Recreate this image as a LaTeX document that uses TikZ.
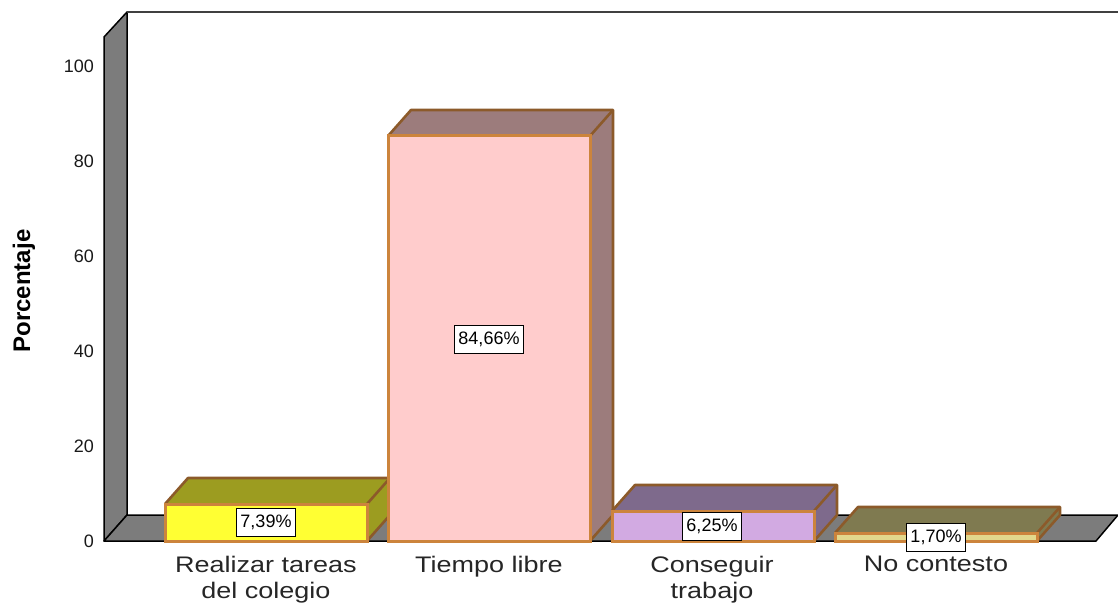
\documentclass[tikz,border=0pt]{standalone}
\usepackage{fontspec}
\setmainfont{Liberation Sans}
\newfontfamily\catfont[FakeStretch=1.2]{Liberation Sans}
\definecolor{wallgray}{RGB}{124,124,124}
\definecolor{frontedge}{RGB}{204,132,60}
\definecolor{topedge}{RGB}{140,90,42}
\definecolor{yfront}{RGB}{255,255,51}
\definecolor{yside}{RGB}{156,156,32}
\definecolor{pfront}{RGB}{255,204,204}
\definecolor{pside}{RGB}{156,124,124}
\definecolor{lfront}{RGB}{210,170,226}
\definecolor{lside}{RGB}{126,106,140}
\definecolor{kfront}{RGB}{226,216,140}
\definecolor{kside}{RGB}{127,122,80}
\tikzset{
  wall/.style={fill=wallgray, draw=black, line width=1.5pt, line join=round},
  sideedge/.style={draw=topedge, line width=2.6pt, line join=round},
  frontface/.style={draw=frontedge, line width=3pt},
  pct/.style={draw=black, fill=white, line width=1pt, inner xsep=3.5pt, minimum height=28pt, font=\fontsize{18}{20}\selectfont},
  tick/.style={anchor=east, inner sep=0pt, font=\fontsize{18}{20}\selectfont, text=black!90},
  cat/.style={align=center, inner sep=0pt, font=\catfont\fontsize{22.5}{26}\selectfont, text=black!85},
}
% #1 left x, #2 front top y, #3 front colour, #4 side colour
\newcommand{\cbar}[4]{%
  \fill[#4] (#1,#2) -- ++(23,-26) -- ++(202,0) -- (#1+225,515) -- (#1+202,541) -- (#1+202,#2) -- cycle;
  \draw[sideedge] (#1,#2) -- ++(23,-26) -- ++(202,0) -- (#1+225,515) -- (#1+202,541);
  \draw[sideedge] (#1+202,#2) -- ++(23,-26);
  \filldraw[frontface, fill=#3] (#1,#2) rectangle (#1+202,541);
}
\begin{document}
\begin{tikzpicture}[x=1pt, y=-1pt]
\useasboundingbox (0,0) rectangle (1118,604);
% walls
\draw[wall] (104,37) -- (127,12) -- (127,515) -- (104,541) -- cycle;
\draw[wall] (104,541) -- (127,515) -- (1118,515) -- (1096,541) -- cycle;
\draw[black!75, line width=2pt] (127,12) -- (1118,12);
% ticks
\node[tick] (t0) at (94,541) {0};
\node[tick] (t20) at (94,446) {20};
\node[tick] (t40) at (94,351) {40};
\node[tick] (t60) at (94,256) {60};
\node[tick] (t80) at (94,161) {80};
\node[tick] (t100) at (94,66) {100};
\node[rotate=90, font=\bfseries\fontsize{24}{28}\selectfont] (ytitle) at (24,291) {Porcentaje};
% bars
\cbar{165}{504}{yfront}{yside}
\cbar{388}{136}{pfront}{pside}
\cbar{612}{511}{lfront}{lside}
\cbar{835}{533}{kfront}{kside}
% value labels
\node[pct] (v1) at (266,522) {7,39\%};
\node[pct] (v2) at (489,339) {84,66\%};
\node[pct] (v3) at (712,526) {6,25\%};
\node[pct] (v4) at (936,537) {1,70\%};
% category labels
\node[cat, anchor=north] (c1) at (266,556) {Realizar tareas\\del colegio};
\node[cat, anchor=north] (c2) at (489,556) {Tiempo libre};
\node[cat, anchor=north] (c3) at (712,556) {Conseguir\\trabajo};
\node[cat, anchor=north] (c4) at (936,556) {No contesto};
\end{tikzpicture}
\end{document}
